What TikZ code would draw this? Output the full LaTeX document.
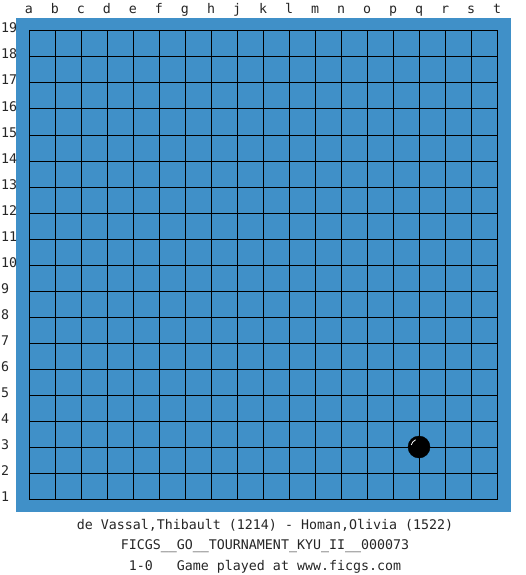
\documentclass[tikz,border=0pt]{standalone}
\usepackage{fontspec}
\newfontfamily\gofont{DejaVu Sans Mono}
\usepackage{tikz}
\usetikzlibrary{positioning,calc}
\definecolor{boardblue}{RGB}{64,144,200}
\tikzset{
  board/.style={fill=boardblue, draw=none},
  gridline/.style={draw=black, line width=1pt, line cap=rect},
  lbl/.style={font=\gofont\fontsize{13.3}{16}\selectfont, inner sep=0pt, text=black!85},
  collbl/.style={lbl, anchor=base},
  rowlbl/.style={lbl, anchor=base west},
  infolbl/.style={lbl, anchor=base},
  stone/.style={circle, fill=black, draw=black, minimum size=22pt, inner sep=0pt},
}

\begin{document}
\begin{tikzpicture}[x=1pt, y=-1pt]
\useasboundingbox[fill=white] (0,0) rectangle (525,575);

% BOARD
\path[board] (16,18) rectangle (511,512);
\foreach \i in {0,...,18} {
  \draw[gridline] (29+26*\i,31) -- (29+26*\i,499);
  \draw[gridline] (29,31+26*\i) -- (497,31+26*\i);
}

% COORDINATES
\foreach \c [count=\i from 0] in {a,b,c,d,e,f,g,h,j,k,l,m,n,o,p,q,r,s,t}
  \node[collbl] (col-\c) at (29+26*\i,14) {\c};
\foreach \r in {1,...,19}
  \node[rowlbl] (row-\r) at (1,527-26*\r) {\r};

% STONE
\node[stone] (q3) at (419,447) {};
\draw[white, line width=0.8pt] ([shift={(165:8pt)}]q3.center) arc[start angle=165, end angle=115, radius=8pt];

% GAME INFO
\node[infolbl] (players) at (265,529) {de Vassal,Thibault (1214) - Homan,Olivia (1522)};
\node[infolbl] (event) at (265,549.5) {FICGS\_\_GO\_\_TOURNAMENT\_KYU\_II\_\_000073};
\node[infolbl] (result) at (265,570) {1-0\ \ \ Game played at www.ficgs.com};

\end{tikzpicture}
\end{document}
